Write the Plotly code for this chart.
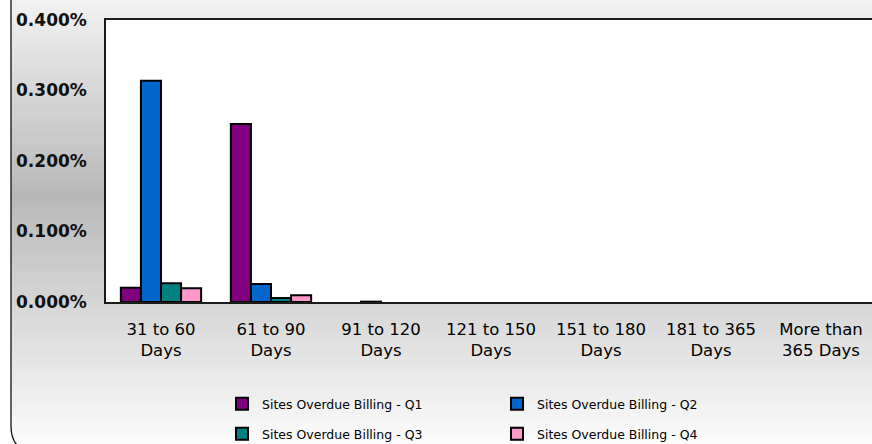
import plotly.graph_objects as go

# ---------------- data ----------------
categories = ["31 to 60<br>Days", "61 to 90<br>Days", "91 to 120<br>Days", "121 to 150<br>Days",
              "151 to 180<br>Days", "181 to 365<br>Days", "More than<br>365 Days"]
q1_values = [0.000203, 0.002525, None, None, None, None, None]
q2_values = [0.003139, 0.000255, 0.000005, None, None, None, None]
q3_values = [0.000265, 0.000057, None, None, None, None, None]
q4_values = [0.000194, 0.000095, None, None, None, None, None]
series_names = ["Sites Overdue Billing - Q1", "Sites Overdue Billing - Q2",
                "Sites Overdue Billing - Q3", "Sites Overdue Billing - Q4"]
series_colors = ["#800080", "#0066CC", "#008080", "#FF99CC"]
y_ticks = [0, 0.001, 0.002, 0.003, 0.004]

# ---------------- layout geometry ----------------
W, H = 872, 444
L, R, T, B = 106, 0, 20, 142
PW, PH = W - L - R, H - T - B


def px2x(px):
    return (px - L) / PW


def py2y(py):
    return 1 - (py - T) / PH


FONT = "DejaVu Sans"

fig = go.Figure()
all_values = [q1_values, q2_values, q3_values, q4_values]
legends = ["legend", "legend", "legend2", "legend2"]
for name, vals, col, lg in zip(series_names, all_values, series_colors, legends):
    fig.add_trace(go.Bar(
        x=categories, y=vals, name=name,
        marker=dict(color=col, line=dict(color="#000000", width=2)),
        legend=lg,
    ))

# background gradient (chart area) drawn as thin strips
shapes = []


def gray_at(py):
    if py <= 195:
        g = 242 + (184 - 242) * py / 195
    else:
        g = 184 + (252 - 184) * (py - 195) / (H - 195)
    g = int(round(g))
    return f"rgb({g},{g},{g})"


step = 3
for py in range(-3, H + 3, step):
    shapes.append(dict(type="rect", xref="paper", yref="paper", layer="below",
                       x0=px2x(11), x1=px2x(W + 20), y0=py2y(py + step + 0.5), y1=py2y(py),
                       fillcolor=gray_at(py + step / 2), line=dict(width=0)))
# white plot area
shapes.append(dict(type="rect", xref="paper", yref="paper", layer="below",
                   x0=0, x1=1.05, y0=0, y1=1, fillcolor="white", line=dict(width=0)))


def P(px, py):
    return f"{px2x(px):.5f},{py2y(py):.5f}"


border_path = (f"M{P(11, -10)} L{P(11, 426)} Q{P(11, 452)} {P(37, 452)} L{P(W + 20, 452)}")
shapes.append(dict(type="path", xref="paper", yref="paper", layer="above",
                   path=border_path, line=dict(color="#000000", width=1.2)))

fig.update_layout(
    width=W, height=H, autosize=False,
    margin=dict(l=L, r=R, t=T, b=B, pad=0, autoexpand=False),
    paper_bgcolor="white", plot_bgcolor="white",
    barmode="group", bargap=0.27, bargroupgap=0,
    font=dict(family=FONT, color="#000000"),
    shapes=shapes,
    legend=dict(orientation="h", x=px2x(222), y=py2y(404), xanchor="left", yanchor="middle",
                bgcolor="rgba(0,0,0,0)", font=dict(family=FONT, size=12.5, color="#000000"),
                entrywidth=230, itemwidth=30, traceorder="normal"),
    legend2=dict(orientation="h", x=px2x(222), y=py2y(434), xanchor="left", yanchor="middle",
                 bgcolor="rgba(0,0,0,0)", font=dict(family=FONT, size=12.5, color="#000000"),
                 entrywidth=230, itemwidth=30, traceorder="normal"),
    showlegend=True,
)

fig.update_xaxes(
    range=[-0.5, -0.5 + PW / 110.0],
    showline=True, linecolor="#1a1a1a", linewidth=2, mirror=True,
    showgrid=False, ticks="", zeroline=False, automargin=False,
    tickfont=dict(family=FONT, size=16.5, color="#000000"),
    ticklabelstandoff=11,
)
fig.update_yaxes(
    range=[0, 0.004], tickvals=y_ticks, tickformat=".3%",
    showline=True, linecolor="#1a1a1a", linewidth=1.5, mirror=False,
    showgrid=False, ticks="", zeroline=False, automargin=False,
    tickfont=dict(family=FONT, size=17, color="#111111", weight="bold"),
    ticklabelstandoff=14,
)

fig.write_html("out.html")
